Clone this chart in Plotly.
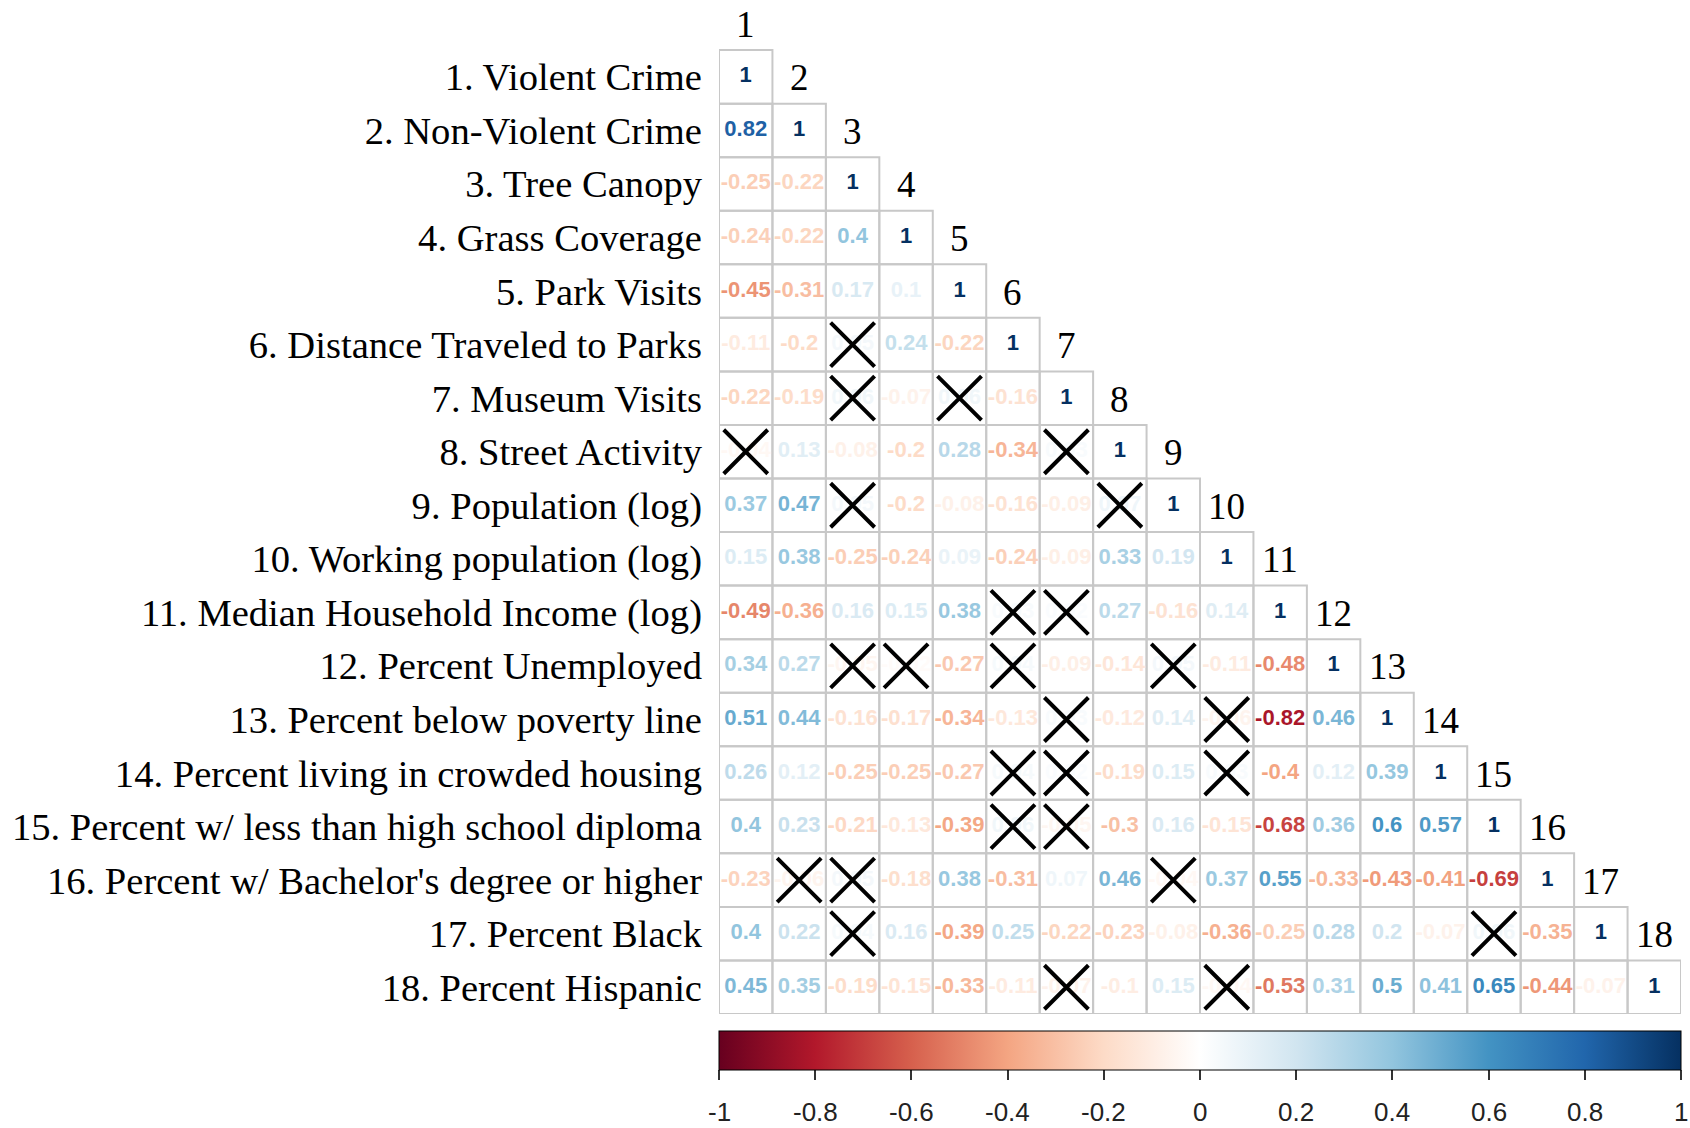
import plotly.graph_objects as go

labels = [
    "1. Violent Crime",
    "2. Non-Violent Crime",
    "3. Tree Canopy",
    "4. Grass Coverage",
    "5. Park Visits",
    "6. Distance Traveled to Parks",
    "7. Museum Visits",
    "8. Street Activity",
    "9. Population (log)",
    "10. Working population (log)",
    "11. Median Household Income (log)",
    "12. Percent Unemployed",
    "13. Percent below poverty line",
    "14. Percent living in crowded housing",
    "15. Percent w/ less than high school diploma",
    "16. Percent w/ Bachelor's degree or higher",
    "17. Percent Black",
    "18. Percent Hispanic",
]

# lower-triangular correlation rows (row i has i values, last is diagonal)
corr_rows = [
    [1],
    [0.82, 1],
    [-0.25, -0.22, 1],
    [-0.24, -0.22, 0.4, 1],
    [-0.45, -0.31, 0.17, 0.1, 1],
    [-0.11, -0.2, 0.05, 0.24, -0.22, 1],
    [-0.22, -0.19, 0.06, -0.07, 0.06, -0.16, 1],
    [-0.04, 0.13, -0.08, -0.2, 0.28, -0.34, 0.03, 1],
    [0.37, 0.47, 0.05, -0.2, -0.08, -0.16, -0.09, 0.07, 1],
    [0.15, 0.38, -0.25, -0.24, 0.09, -0.24, -0.09, 0.33, 0.19, 1],
    [-0.49, -0.36, 0.16, 0.15, 0.38, 0.03, 0.02, 0.27, -0.16, 0.14, 1],
    [0.34, 0.27, -0.05, -0.02, -0.27, 0.04, -0.09, -0.14, 0.05, -0.11, -0.48, 1],
    [0.51, 0.44, -0.16, -0.17, -0.34, -0.13, 0.03, -0.12, 0.14, -0.06, -0.82, 0.46, 1],
    [0.26, 0.12, -0.25, -0.25, -0.27, 0.04, 0.02, -0.19, 0.15, 0.03, -0.4, 0.12, 0.39, 1],
    [0.4, 0.23, -0.21, -0.13, -0.39, 0.06, -0.05, -0.3, 0.16, -0.15, -0.68, 0.36, 0.6, 0.57, 1],
    [-0.23, -0.06, 0.05, -0.18, 0.38, -0.31, 0.07, 0.46, -0.04, 0.37, 0.55, -0.33, -0.43, -0.41, -0.69, 1],
    [0.4, 0.22, 0.04, 0.16, -0.39, 0.25, -0.22, -0.23, -0.08, -0.36, -0.25, 0.28, 0.2, -0.07, 0.06, -0.35, 1],
    [0.45, 0.35, -0.19, -0.15, -0.33, -0.11, -0.07, -0.1, 0.15, -0.04, -0.53, 0.31, 0.5, 0.41, 0.65, -0.44, -0.07, 1],
]

# non-significant cells (row, column), 1-based
insignificant = [
    (6, 3), (7, 3), (7, 5), (8, 1), (8, 7), (9, 3), (9, 8),
    (11, 6), (11, 7), (12, 3), (12, 4), (12, 6), (12, 9),
    (13, 7), (13, 10), (14, 6), (14, 7), (14, 10), (15, 6), (15, 7),
    (16, 2), (16, 3), (16, 9), (17, 3), (17, 15), (18, 7), (18, 10),
]

cbar_ticks = [-1, -0.8, -0.6, -0.4, -0.2, 0, 0.2, 0.4, 0.6, 0.8, 1]
cbar_ticktext = ["-1", "-0.8", "-0.6", "-0.4", "-0.2", "0", "0.2", "0.4", "0.6", "0.8", "1"]

rdbu = ["#67001F", "#B2182B", "#D6604D", "#F4A582", "#FDDBC7", "#FFFFFF",
        "#D1E5F0", "#92C5DE", "#4393C3", "#2166AC", "#053061"]
colorscale = [[k / 10, c] for k, c in enumerate(rdbu)]


def hex2rgb(h):
    h = h.lstrip("#")
    return tuple(int(h[k:k + 2], 16) for k in (0, 2, 4))


def val_color(v):
    t = (v + 1) / 2 * 10
    k = min(int(t), 9)
    f = t - k
    a, b = hex2rgb(rdbu[k]), hex2rgb(rdbu[k + 1])
    return "rgb(%d,%d,%d)" % tuple(round(a[m] + (b[m] - a[m]) * f) for m in range(3))


def fmt(v):
    return f"{v:.2f}".rstrip("0").rstrip(".")


n = len(labels)
W, H = 1690, 1128
# plot area in page pixels: x 719..1681, y 50..1014
m_l, m_r = 719, W - 1681
m_t, m_b = 0, H - 1014
plot_h = H - m_t - m_b
row_px = 53.55
top_val = n + 0.5 - plot_h / row_px  # headroom above row 1 for header "1"

serif = "Liberation Serif, Times New Roman"
sans = "Liberation Sans, Arial"

fig = go.Figure()

# cell borders
gx, gy = [], []
for i in range(1, n + 1):
    for j in range(1, i + 1):
        gx += [j - 0.5, j + 0.5, j + 0.5, j - 0.5, j - 0.5, None]
        gy += [i - 0.5, i - 0.5, i + 0.5, i + 0.5, i - 0.5, None]
fig.add_trace(go.Scatter(x=gx, y=gy, mode="lines",
                         line=dict(color="#C8C8C8", width=2),
                         hoverinfo="skip", showlegend=False))

# numbers
tx, ty, tt, tc = [], [], [], []
for i, row in enumerate(corr_rows, start=1):
    for j, v in enumerate(row, start=1):
        tx.append(j)
        ty.append(i)
        tt.append(fmt(v))
        tc.append(val_color(v))
fig.add_trace(go.Scatter(x=tx, y=ty, mode="text", text=tt,
                         textfont=dict(family=sans, size=22, color=tc, weight="bold"),
                         hoverinfo="skip", showlegend=False))

# X marks for non-significant
fig.add_trace(go.Scatter(x=[c for r, c in insignificant], y=[r for r, c in insignificant],
                         mode="markers",
                         marker=dict(symbol="x-thin", size=44,
                                     line=dict(color="black", width=4)),
                         hoverinfo="skip", showlegend=False))

# colorbar carrier
cb_y_top = -17 / plot_h
fig.add_trace(go.Scatter(x=[1, 1], y=[1, 1], mode="markers",
                         marker=dict(color=[-1, 1], cmin=-1, cmax=1, colorscale=colorscale,
                                     opacity=0, size=1,
                                     colorbar=dict(orientation="h", x=0.5, xanchor="center",
                                                   y=cb_y_top, yanchor="top",
                                                   len=1, lenmode="fraction",
                                                   thickness=39, thicknessmode="pixels",
                                                   xpad=0, ypad=0,
                                                   outlinecolor="black", outlinewidth=1,
                                                   tickvals=cbar_ticks,
                                                   ticks="outside", ticklen=10, tickwidth=1.5,
                                                   tickcolor="#333333",
                                                   showticklabels=False)),
                         hoverinfo="skip", showlegend=False))

annotations = []
# column header numbers above the diagonal
for k in range(1, n + 1):
    annotations.append(dict(x=k, y=k - 1, xref="x", yref="y", text=str(k),
                            showarrow=False, yshift=-1,
                            font=dict(family=serif, size=37, color="black")))
# colorbar tick labels
for v, t in zip(cbar_ticks, cbar_ticktext):
    annotations.append(dict(x=0.5 + (v + 1) / 2 * n, y=-98 / plot_h, xref="x", yref="paper",
                            text=t, showarrow=False, xanchor="center", yanchor="middle",
                            font=dict(family=sans, size=26, color="#222222")))

fig.update_xaxes(range=[0.5, n + 0.5], showgrid=False, zeroline=False,
                 showticklabels=False, showline=False, ticks="")
fig.update_yaxes(range=[n + 0.5, top_val], showgrid=False, zeroline=False, showline=False,
                 tickvals=list(range(1, n + 1)), ticktext=labels, ticks="",
                 ticklabelstandoff=16,
                 tickfont=dict(family=serif, size=38.6, color="black"))

fig.update_layout(width=W, height=H,
                  margin=dict(l=m_l, r=m_r, t=m_t, b=m_b, autoexpand=False),
                  paper_bgcolor="white", plot_bgcolor="white",
                  showlegend=False, annotations=annotations)

# remove the browser's default page margin so the figure fills the window exactly
fig.write_html("out.html", config={"displayModeBar": False},
               post_script="document.body.style.margin='0px';")
